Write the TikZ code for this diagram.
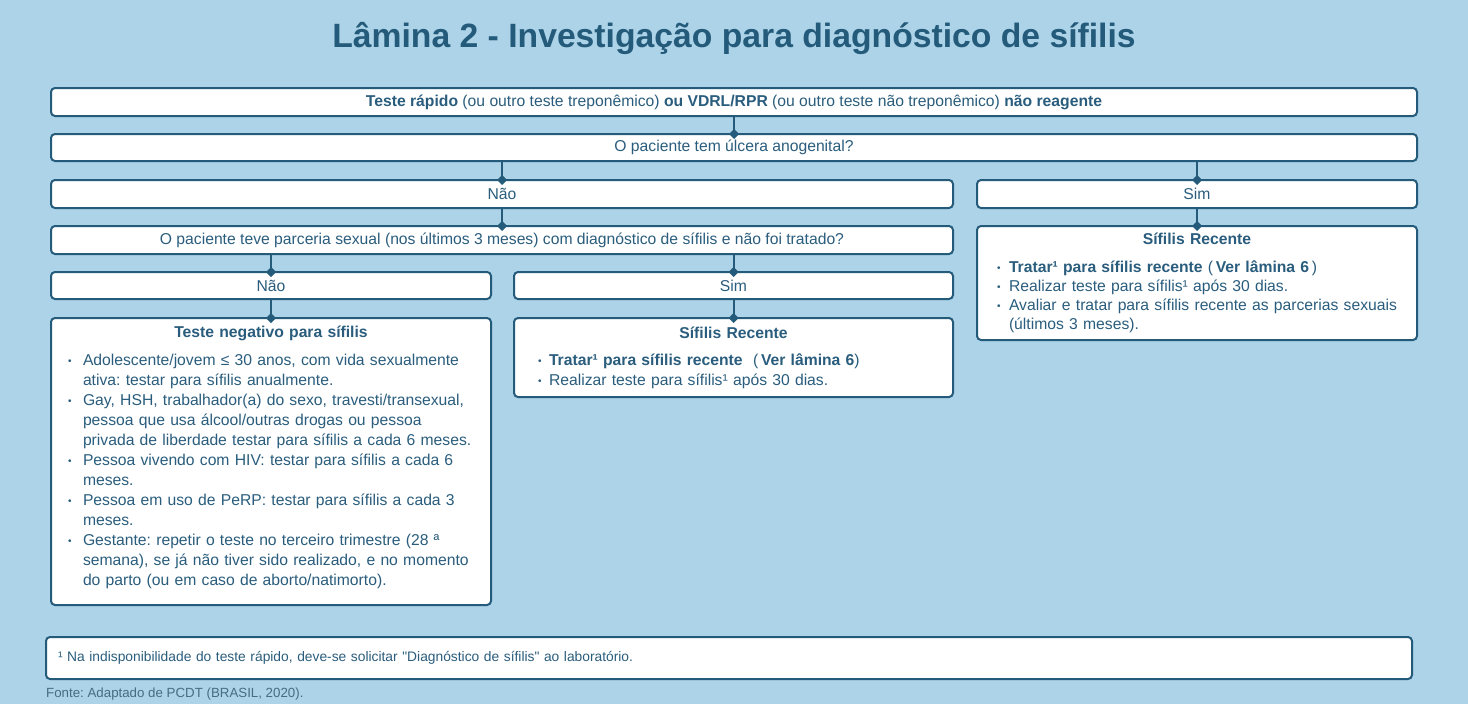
\documentclass[tikz,border=0pt]{standalone}
\usepackage{fontspec}
\setmainfont{Liberation Sans}[Ligatures=TeXOff]
\usepackage{xcolor}
\usepackage{tikz}
\usetikzlibrary{arrows.meta,positioning}
\definecolor{bgblue}  {RGB}{172,211,232}
\definecolor{lineblue}{RGB}{36,90,122}
\definecolor{txtblue} {RGB}{42,93,125}
\definecolor{srcgray} {RGB}{72,108,130}
\newcommand{\fsz}[2]{\fontsize{#1pt}{#2pt}\selectfont}
\newcommand{\bitem}[1][13pt]{\par\hangindent=#1\hangafter=1\noindent
  \makebox[#1][l]{\raisebox{1pt}{\fsz{10}{10}\textbullet}}}
\frenchspacing
\tikzset{
  flowbox/.style={draw=lineblue, fill=white, line width=2pt, rounded corners=4pt,
                  text=txtblue, font=\fsz{15.7}{19.5}, inner sep=0pt,
                  outer sep=0pt, anchor=north west},
  listbox/.style={flowbox, align=left, inner ysep=2pt},
  link/.style   ={draw=lineblue, line width=2pt,
                  -{Diamond[length=10pt,width=10pt]}, shorten >=-5pt},
}

\begin{document}
\begin{tikzpicture}[x=1pt,y=-1pt]
  \fill[bgblue] (0,0) rectangle (1468,704);
  \useasboundingbox (0,0) rectangle (1468,704);

  \node[text=lineblue, font=\fsz{33.7}{40}\bfseries] (title) at (734,38)
    {Lâmina 2 - Investigação para diagnóstico de sífilis};

  \node[flowbox, minimum width=1366pt, minimum height=28pt] (teste) at (51,88)
    {\textbf{Teste rápido} (ou outro teste treponêmico) \textbf{ou VDRL/RPR}
     (ou outro teste não treponêmico) \textbf{não reagente}};
  \node[flowbox, minimum width=1366pt, minimum height=27pt,
        below=18pt of teste.south west, anchor=north west] (ulcera)
    {O paciente tem úlcera anogenital?};

  \node[flowbox, minimum width=902pt, minimum height=28pt,
        below=19pt of ulcera.south west, anchor=north west] (nao1) {Não};
  \node[flowbox, minimum width=440pt, minimum height=28pt,
        right=24pt of nao1.north east, anchor=north west] (sim1) {Sim};

  \node[flowbox, minimum width=902pt, minimum height=28pt,
        below=18pt of nao1.south west, anchor=north west] (parceria)
    {O paciente teve parceria sexual (nos últimos 3 meses) com diagnóstico de sífilis e não foi tratado?};

  % ramo da direita
  \node[listbox, minimum width=440pt, minimum height=114pt, inner xsep=20pt,
        text width=400pt, font=\fsz{15.7}{19},
        below=18pt of sim1.south west, anchor=north west] (recente1)
    {{\centering\bfseries Sífilis Recente\par}\vspace{9pt}
     \bitem[12pt]\textbf{Tratar¹ para sífilis recente} (\,\textbf{Ver lâmina 6}\,)
     \bitem[12pt]\mbox{Realizar teste para sífilis¹ após 30 dias.}
     \bitem[12pt]\mbox{Avaliar e tratar para sífilis recente as parcerias sexuais}\newline
       (últimos 3 meses).\par};

  \node[flowbox, minimum width=440pt, minimum height=27pt,
        below=18pt of parceria.south west, anchor=north west] (nao2) {Não};
  \node[flowbox, minimum width=439pt, minimum height=27pt,
        right=23pt of nao2.north east, anchor=north west] (sim2) {Sim};

  \node[listbox, minimum width=440pt, minimum height=287pt, inner xsep=17pt,
        text width=406pt, font=\fsz{15.7}{20},
        below=19pt of nao2.south west, anchor=north west] (negativo)
    {{\centering\bfseries Teste negativo para sífilis\par}\vspace{8pt}
     \bitem[15pt]Adolescente/jovem ≤ 30 anos, com vida sexualmente\newline
       ativa: testar para sífilis anualmente.
     \bitem[15pt]Gay, HSH, trabalhador(a) do sexo, travesti/transexual,\newline
       pessoa que usa álcool/outras drogas ou pessoa\newline
       privada de liberdade testar para sífilis a cada 6 meses.
     \bitem[15pt]Pessoa vivendo com HIV: testar para sífilis a cada 6\newline
       meses.
     \bitem[15pt]Pessoa em uso de PeRP: testar para sífilis a cada 3\newline
       meses.
     \bitem[15pt]Gestante: repetir o teste no terceiro trimestre (28 ª\newline
       semana), se já não tiver sido realizado, e no momento\newline
       do parto (ou em caso de aborto/natimorto).\par\vspace{8pt}};

  \node[listbox, minimum width=439pt, minimum height=79pt, inner xsep=24pt,
        text width=391pt, font=\fsz{15.7}{20},
        below=19pt of sim2.south west, anchor=north west] (recente2)
    {{\centering\bfseries Sífilis Recente\par}\vspace{7pt}
     \bitem[11pt]\textbf{Tratar¹ para sífilis recente}\ \ (\,\textbf{Ver lâmina 6})
     \bitem[11pt]Realizar teste para sífilis¹ após 30 dias.\par};

  % nota de rodape
  \node[flowbox, minimum width=1366pt, minimum height=42pt, align=left,
        text width=1342pt, inner xsep=12pt, font=\fsz{13.8}{16}] (nota) at (46,637)
    {\raisebox{-6pt}{¹ Na indisponibilidade do teste rápido, deve-se solicitar "Diagnóstico de sífilis" ao laboratório.}};
  \node[anchor=west, inner sep=0pt, text=srcgray, font=\fsz{13.3}{16}] (fonte) at (46,694)
    {Fonte: Adaptado de PCDT (BRASIL, 2020).};

  \draw[link] (teste.south) -- (ulcera.north);
  \draw[link] (nao1.north |- ulcera.south) -- (nao1.north);
  \draw[link] (sim1.north |- ulcera.south) -- (sim1.north);
  \draw[link] (nao1.south) -- (parceria.north);
  \draw[link] (sim1.south) -- (recente1.north);
  \draw[link] (nao2.north |- parceria.south) -- (nao2.north);
  \draw[link] (sim2.north |- parceria.south) -- (sim2.north);
  \draw[link] (nao2.south) -- (negativo.north);
  \draw[link] (sim2.south) -- (recente2.north);
\end{tikzpicture}
\end{document}
